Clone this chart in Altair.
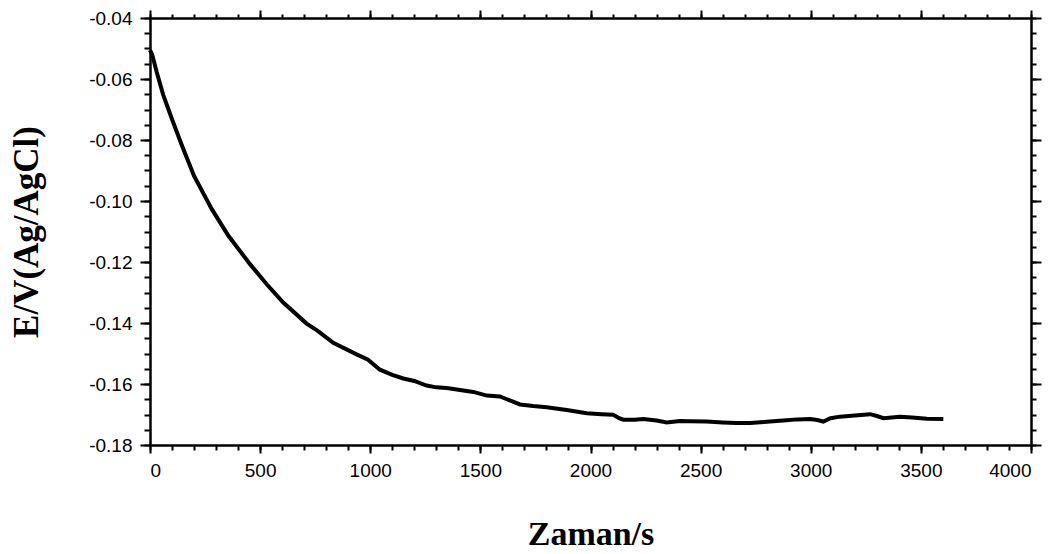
import altair as alt
import pandas as pd

# Data
time_s = [0, 10, 30, 60, 100, 145, 200, 280, 356, 454, 530, 605, 711, 760, 832,
          938, 990, 1044, 1100, 1150, 1200, 1256, 1300, 1347, 1400, 1468, 1529,
          1589, 1620, 1680, 1740, 1801, 1892, 1983, 2050, 2103, 2130, 2149, 2200,
          2240, 2300, 2346, 2406, 2450, 2527, 2600, 2663, 2724, 2800, 2875, 2940,
          2997, 3030, 3057, 3090, 3133, 3200, 3270, 3300, 3330, 3405, 3460, 3527,
          3602]
potential_v = [-0.0505, -0.0520, -0.0576, -0.0652, -0.0732, -0.0818, -0.0918,
               -0.1026, -0.1114, -0.1207, -0.1273, -0.1333, -0.1402, -0.1425,
               -0.1465, -0.1503, -0.1520, -0.1553, -0.1570, -0.1582, -0.1590,
               -0.1605, -0.1611, -0.1613, -0.1619, -0.1626, -0.1638, -0.1641,
               -0.1650, -0.1667, -0.1672, -0.1676, -0.1685, -0.1696, -0.1699,
               -0.1701, -0.1712, -0.1717, -0.1717, -0.1715, -0.1720, -0.1726,
               -0.1721, -0.1722, -0.1723, -0.1726, -0.1728, -0.1728, -0.1724,
               -0.1720, -0.1716, -0.1715, -0.1718, -0.1723, -0.1712, -0.1707,
               -0.1703, -0.1699, -0.1705, -0.1712, -0.1707, -0.1710, -0.1714,
               -0.1715]

x_major = [0, 500, 1000, 1500, 2000, 2500, 3000, 3500, 4000]
x_minor = list(range(0, 4001, 100))
y_major = [-0.18, -0.16, -0.14, -0.12, -0.10, -0.08, -0.06, -0.04]
y_minor = [round(-0.18 + 0.005 * i, 3) for i in range(29)]

df = pd.DataFrame({"t": time_s, "E": potential_v})

LABEL_FONT = "Liberation Sans"
TITLE_FONT = "Liberation Serif"
label_expr = "datum.value < 0 ? '-' + format(-datum.value, '.2f') : format(datum.value, '.2f')"

xscale = alt.Scale(domain=[0, 4000], nice=False, zero=False)
yscale = alt.Scale(domain=[-0.18, -0.04], nice=False, zero=False)

common_axis = dict(grid=False, tickColor="black", domainColor="black",
                   labelColor="black", tickWidth=2, domainWidth=2.5)

base = alt.Chart(df)

main = base.mark_line(color="black", strokeWidth=4).encode(
    x=alt.X("t:Q", scale=xscale, axis=alt.Axis(
        orient="bottom", values=x_major, tickSize=8, labelPadding=8,
        labelFont=LABEL_FONT, labelFontSize=19, format="d",
        title="Zaman/s", titleFont=TITLE_FONT, titleFontSize=34,
        titleFontWeight="bold", titleColor="black", titlePadding=37,
        **common_axis)),
    y=alt.Y("E:Q", scale=yscale, axis=alt.Axis(
        orient="left", values=y_major, tickSize=10, labelPadding=8,
        labelFont=LABEL_FONT, labelFontSize=19, labelExpr=label_expr,
        title="E/V(Ag/AgCl)", titleFont=TITLE_FONT, titleFontSize=35,
        titleFontWeight="bold", titleColor="black", titlePadding=44,
        **common_axis)),
)

minor_bl = base.mark_line(opacity=0).encode(
    x=alt.X("t:Q", scale=xscale, axis=alt.Axis(
        orient="bottom", values=x_minor, tickSize=5, labels=False,
        domain=False, title=None, **common_axis)),
    y=alt.Y("E:Q", scale=yscale, axis=alt.Axis(
        orient="left", values=y_minor, tickSize=6, labels=False,
        domain=False, title=None, **common_axis)),
)

major_tr = base.mark_line(opacity=0).encode(
    x=alt.X("t:Q", scale=xscale, axis=alt.Axis(
        orient="top", values=x_major, tickSize=8, labels=False,
        title=None, **common_axis)),
    y=alt.Y("E:Q", scale=yscale, axis=alt.Axis(
        orient="right", values=y_major, tickSize=10, labels=False,
        title=None, **common_axis)),
)

minor_tr = base.mark_line(opacity=0).encode(
    x=alt.X("t:Q", scale=xscale, axis=alt.Axis(
        orient="top", values=x_minor, tickSize=4, labels=False,
        domain=False, title=None, **common_axis)),
    y=alt.Y("E:Q", scale=yscale, axis=alt.Axis(
        orient="right", values=y_minor, tickSize=5, labels=False,
        domain=False, title=None, **common_axis)),
)

chart = alt.layer(minor_bl, major_tr, minor_tr, main).resolve_axis(
    x="independent", y="independent"
).properties(
    width=881, height=427,
    autosize=alt.AutoSizeParams(type="none"),
    padding={"left": 142, "top": 10, "right": 20, "bottom": 108},
).configure_view(stroke=None).configure(background="white")

chart.save("out.html", embed_options={"renderer": "svg", "actions": False})
